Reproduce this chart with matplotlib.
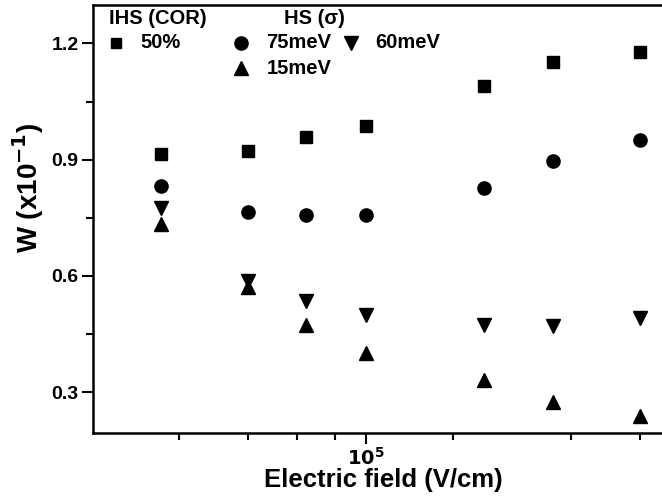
"""
plot.py - W versus electric field for IHS (COR) and HS (sigma) samples.
Log x axis, scatter markers only, legend written inside the frame.
Output: out.png
"""

import matplotlib
matplotlib.use("Agg")
import matplotlib.pyplot as plt
from matplotlib.ticker import FixedLocator, NullFormatter

plt.rcParams["font.family"] = ["Liberation Sans", "DejaVu Sans"]
plt.rcParams["font.weight"] = "bold"

# ---------------------------------------------------------------------------
# Data
# ---------------------------------------------------------------------------
field = [3e4, 5e4, 7e4, 1e5, 2e5, 3e5, 5e5]          # V/cm

w_cor50  = [0.915, 0.921, 0.958, 0.987, 1.089, 1.152, 1.178]
w_hs75   = [0.833, 0.765, 0.756, 0.758, 0.828, 0.897, 0.950]
w_hs60   = [0.774, 0.587, 0.535, 0.498, 0.472, 0.471, 0.492]
w_hs15   = [0.734, 0.572, 0.472, 0.401, 0.330, 0.275, 0.238]

y_major = [0.3, 0.6, 0.9, 1.2]
y_minor = [0.45, 0.75, 1.05]
x_major = [1e5]
x_minor = [3.33e4, 5e4, 6.67e4, 8.33e4, 1.67e5, 3.33e5, 5e5]

# ---------------------------------------------------------------------------
# Figure
# ---------------------------------------------------------------------------
W_PX, H_PX = 662, 498
fig = plt.figure(figsize=(W_PX / 100, H_PX / 100), dpi=100)

# frame runs past the right edge of the picture, as in the reference
L, R, T, B = 92.5, 671.0, 4.7, 432.7
ax = fig.add_axes([L / W_PX, 1 - B / H_PX, (R - L) / W_PX, (B - T) / H_PX])

ax.set_xscale("log")
ax.set_xlim(2e4, 6e5)
ax.set_ylim(0.195, 1.30)

mk = dict(linestyle="none", color="black", clip_on=False)
ax.plot(field, w_cor50, marker="s", markersize=8, **mk)
ax.plot(field, w_hs75, marker="o", markersize=9.5, **mk)
ax.plot(field, w_hs60, marker="v", markersize=10.5, **mk)
ax.plot(field, w_hs15, marker="^", markersize=10.5, **mk)

# ticks
ax.xaxis.set_major_locator(FixedLocator(x_major))
ax.xaxis.set_minor_locator(FixedLocator(x_minor))
ax.xaxis.set_minor_formatter(NullFormatter())
ax.set_xticklabels([r"$\mathbf{10^{5}}$"])
ax.yaxis.set_major_locator(FixedLocator(y_major))
ax.yaxis.set_minor_locator(FixedLocator(y_minor))
ax.set_yticklabels([f"{v:.1f}" for v in y_major])

ax.tick_params(which="major", direction="out", length=8, width=1.5,
               labelsize=14, pad=2)
ax.tick_params(which="minor", direction="out", length=5, width=1.5)
ax.tick_params(top=False, right=False, which="both")

for side in ["left", "bottom", "top"]:
    ax.spines[side].set_linewidth(1.8)
ax.spines["right"].set_visible(False)

ax.set_xlabel("Electric field (V/cm)", fontsize=18.5, fontweight="bold")
ax.set_ylabel(r"W (x10$^{\mathbf{-1}}$)", fontsize=20, fontweight="bold")
# label anchors: x label by its top edge, y label by its right edge
ax.xaxis.set_label_coords((383 - L) / (R - L), -(468 - B) / (B - T))
ax.yaxis.set_label_coords(-(L - 46) / (R - L), (B - 188) / (B - T))

# ---------------------------------------------------------------------------
# In-frame legend, placed in pixel units of the picture
# ---------------------------------------------------------------------------
def ax_xy(px, py):
    return (px - L) / (R - L), (B - py) / (B - T)


def legend_mark(px, py, marker, size):
    x, y = ax_xy(px, py)
    ax.plot([x], [y], marker=marker, markersize=size, color="black",
            linestyle="none", transform=ax.transAxes, clip_on=False)


def legend_text(px, py, s):
    x, y = ax_xy(px, py)
    ax.text(x, y, s, transform=ax.transAxes, ha="left", va="center",
            fontsize=14.5, fontweight="bold")


legend_text(109, 18, "IHS (COR)")
legend_text(284, 18, "HS (σ)")
legend_mark(116, 43, "s", 7.5)
legend_text(140, 43, "50%")
legend_mark(241, 43, "o", 9.5)
legend_text(266, 43, "75meV")
legend_mark(351, 43, "v", 10.5)
legend_text(375, 43, "60meV")
legend_mark(241, 68, "^", 10.5)
legend_text(267, 68, "15meV")

fig.savefig("out.png", dpi=100)
